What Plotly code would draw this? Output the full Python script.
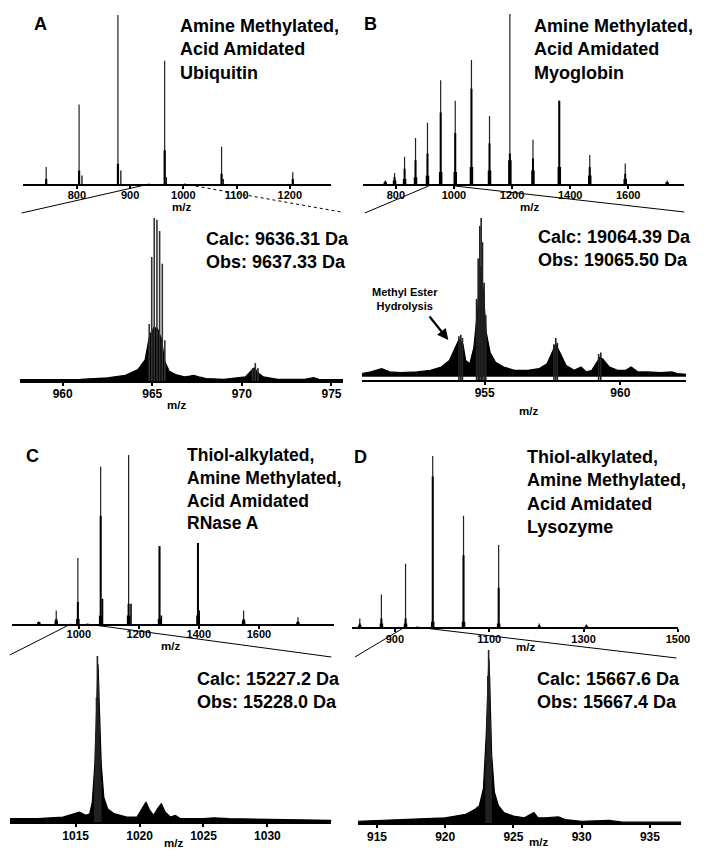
import plotly.graph_objects as go

W, H = 712, 859
FONT = "Liberation Sans, Arial, Helvetica, sans-serif"


def px(x):
    return x / W


def py(y):
    return 1 - y / H


# ---------------- Panel A (ubiquitin) ----------------
a_top_mz = [742.3, 804.1, 877.1, 964.9, 1071.8, 1205.6]
a_top_int = [0.10, 0.47, 1.00, 0.73, 0.22, 0.07]
a_top_core = [0.03, 0.08, 0.12, 0.20, 0.06, 0.03]
a_top_sat_mz = [809.5, 882.6, 968.0, 1075.0]
a_top_sat_int = [0.05, 0.08, 0.04, 0.03]
a_top_ticks = [800, 900, 1000, 1100, 1200]

a_zoom_env_mz = [957.6, 959.0, 961.0, 962.5, 963.5, 964.2, 964.6, 964.85, 965.1, 965.3, 965.5,
                 965.7, 965.95, 966.3, 966.8, 967.1, 967.3, 967.6, 968.0, 969.0, 970.2, 970.5,
                 970.7, 970.9, 971.2, 972.0, 973.5, 974.0, 974.3, 975.65]
a_zoom_env_int = [0.008, 0.008, 0.01, 0.02, 0.035, 0.07, 0.13, 0.28, 0.33, 0.32, 0.26,
                  0.12, 0.06, 0.04, 0.025, 0.03, 0.035, 0.025, 0.015, 0.01, 0.025, 0.06,
                  0.08, 0.05, 0.025, 0.01, 0.01, 0.02, 0.01, 0.008]
a_zoom_iso_mz = [964.83, 964.97, 965.11, 965.26, 965.41, 965.56, 965.70, 970.6, 970.75, 970.9]
a_zoom_iso_int = [0.35, 0.76, 1.00, 0.99, 0.92, 0.72, 0.25, 0.08, 0.11, 0.08]
a_zoom_ticks = [960, 965, 970, 975]

# ---------------- Panel B (myoglobin) ----------------
b_top_mz = [763.6, 795.4, 829.9, 867.6, 908.8, 954.2, 1004.4, 1060.2, 1122.4, 1192.5,
            1272.0, 1362.7, 1467.5, 1589.7, 1734.0]
b_top_int = [0.02, 0.065, 0.16, 0.27, 0.36, 0.61, 0.49, 0.73, 0.40, 1.00, 0.26, 0.49, 0.17, 0.12, 0.02]
b_top_core = [0.015, 0.04, 0.09, 0.14, 0.18, 0.42, 0.30, 0.56, 0.24, 0.18, 0.15, 0.49, 0.10, 0.06, 0.01]
b_top_foot = [0.01, 0.02, 0.03, 0.04, 0.05, 0.07, 0.07, 0.10, 0.08, 0.14, 0.08, 0.10, 0.05, 0.03, 0.01]
b_top_ticks = [800, 1000, 1200, 1400, 1600]

b_zoom_env_mz = [950.47, 950.8, 951.2, 951.5, 951.9, 952.5, 953.0, 953.4, 953.7, 953.9, 954.05,
                 954.2, 954.3, 954.45, 954.6, 954.75, 954.85, 954.95, 955.05, 955.2, 955.4,
                 955.7, 956.1, 956.6, 957.0, 957.3, 957.5, 957.62, 957.8, 958.0, 958.3,
                 958.55, 958.75, 958.95, 959.1, 959.25, 959.35, 959.6, 959.9, 960.2, 960.4,
                 960.65, 961.0, 961.5, 961.9, 962.1, 962.43]
b_zoom_env_int = [0.04, 0.05, 0.07, 0.05, 0.045, 0.05, 0.06, 0.08, 0.12, 0.20, 0.25,
                  0.22, 0.12, 0.10, 0.20, 0.45, 0.70, 0.55, 0.30, 0.17, 0.11,
                  0.08, 0.06, 0.06, 0.07, 0.10, 0.18, 0.22, 0.16, 0.09, 0.06,
                  0.08, 0.05, 0.06, 0.10, 0.14, 0.13, 0.08, 0.06, 0.06, 0.08,
                  0.05, 0.05, 0.045, 0.05, 0.04, 0.035]
b_zoom_floor = 0.022  # lower edge of the noisy baseline band
b_zoom_iso_mz = [954.05, 954.12, 954.18, 954.70, 954.76, 954.82, 954.87, 954.92, 954.98,
                 955.04, 957.55, 957.62, 957.68, 959.20, 959.28]
b_zoom_iso_int = [0.27, 0.28, 0.26, 0.50, 0.75, 0.95, 1.00, 0.85, 0.60, 0.40, 0.22, 0.26, 0.23, 0.16, 0.17]
b_zoom_ticks = [955, 960]

# ---------------- Panel C (RNase A) ----------------
c_top_mz = [867, 925, 997, 1073, 1166, 1269, 1397, 1549, 1730]
c_top_int = [0.015, 0.08, 0.39, 0.93, 1.00, 0.46, 0.48, 0.08, 0.04]
c_top_core = [0.01, 0.03, 0.13, 0.64, 0.12, 0.46, 0.48, 0.03, 0.015]
c_top_foot = [0.01, 0.02, 0.03, 0.05, 0.05, 0.03, 0.05, 0.02, 0.01]
c_top_sat_mz = [1079, 1174, 1275, 1401]
c_top_sat_int = [0.15, 0.12, 0.05, 0.08]
c_top_ticks = [1000, 1200, 1400, 1600]

c_zoom_env_mz = [1009.85, 1012.0, 1014.0, 1014.8, 1015.3, 1015.8, 1016.1, 1016.3, 1016.5, 1016.65,
                 1016.75, 1016.85, 1017.0, 1017.2, 1017.5, 1018.0, 1019.0, 1019.8, 1020.2, 1020.5,
                 1020.8, 1021.1, 1021.4, 1021.7, 1022.0, 1022.4, 1022.8, 1023.2, 1025.0, 1025.8,
                 1027.0, 1035.0]
c_zoom_env_int = [0.02, 0.02, 0.03, 0.05, 0.06, 0.04, 0.05, 0.12, 0.35, 0.70,
                  0.95, 0.70, 0.35, 0.15, 0.08, 0.05, 0.03, 0.03, 0.08, 0.12,
                  0.07, 0.04, 0.08, 0.11, 0.06, 0.03, 0.04, 0.02, 0.02, 0.025,
                  0.02, 0.01]
c_zoom_iso_mz = [1016.50, 1016.57, 1016.63, 1016.70, 1016.77, 1016.83, 1016.90, 1016.97]
c_zoom_iso_int = [0.30, 0.50, 0.75, 1.00, 0.85, 0.60, 0.40, 0.25]
c_zoom_ticks = [1015, 1020, 1025, 1030]

# ---------------- Panel D (lysozyme) ----------------
d_top_mz = [825.6, 871.4, 922.6, 980.2, 1045.5, 1120.0, 1206.0, 1306.0]
d_top_int = [0.05, 0.19, 0.37, 1.00, 0.65, 0.48, 0.02, 0.015]
d_top_core = [0.02, 0.05, 0.05, 0.88, 0.42, 0.23, 0.01, 0.01]
d_top_foot = [0.01, 0.02, 0.02, 0.03, 0.03, 0.02, 0.005, 0.005]
d_top_ticks = [900, 1100, 1300, 1500]

d_zoom_env_mz = [913.6, 917.0, 920.0, 921.5, 922.2, 922.5, 922.8, 923.0, 923.1, 923.2,
                 923.3, 923.4, 923.6, 923.9, 924.3, 925.0, 925.8, 926.3, 926.5, 926.8,
                 927.3, 928.3, 928.8, 930.0, 932.0, 933.0, 937.3]
d_zoom_env_int = [0.01, 0.02, 0.03, 0.05, 0.08, 0.10, 0.20, 0.50, 0.80, 0.95,
                  0.70, 0.40, 0.18, 0.10, 0.06, 0.04, 0.03, 0.05, 0.06, 0.03,
                  0.03, 0.035, 0.02, 0.01, 0.015, 0.005, 0.005]
d_zoom_iso_mz = [923.00, 923.06, 923.12, 923.18, 923.24, 923.30, 923.36]
d_zoom_iso_int = [0.40, 0.60, 0.85, 1.00, 0.85, 0.60, 0.40]
d_zoom_ticks = [915, 920, 925, 930, 935]

# ---------------- layout geometry (pixels) ----------------
# (left, right, baseline_y, top_y, xrange, tickvals, tickfont size, label standoff)
panels = [
    (23, 337, 184, 15, [698, 1278], a_top_ticks, 11, -3),
    (20, 349, 381, 218, [957.6, 975.65], a_zoom_ticks, 12, -2),
    (369, 696, 184, 14, [686, 1793], b_top_ticks, 11, -3),
    (368, 698, 380, 218, [950.47, 962.43], b_zoom_ticks, 12, -2),
    (12, 340, 624, 455, [777, 1851], c_top_ticks, 11, -4),
    (10, 337, 822, 656, [1009.85, 1035], c_zoom_ticks, 12, -1),
    (358, 690, 627, 456, [809, 1501], d_top_ticks, 11, -2),
    (364, 693, 823, 650, [913.6, 937.3], d_zoom_ticks, 12, -1),
]


def sticks(mz, it):
    xs, ys = [], []
    for m, h in zip(mz, it):
        xs += [m, m, None]
        ys += [0, h, None]
    return xs, ys


fig = go.Figure()


def add_sticks(idx, mz, it, width, color="black"):
    xs, ys = sticks(mz, it)
    fig.add_trace(go.Scatter(x=xs, y=ys, mode="lines", line=dict(color=color, width=width),
                             xaxis=f"x{idx}", yaxis=f"y{idx}", hoverinfo="skip", showlegend=False))


def add_env(idx, mz, it, floor=None):
    if floor is not None:
        fig.add_trace(go.Scatter(x=[mz[0], mz[-1]], y=[floor, floor], mode="lines",
                                 line=dict(color="black", width=0.5),
                                 xaxis=f"x{idx}", yaxis=f"y{idx}", hoverinfo="skip",
                                 showlegend=False))
        fill = "tonexty"
    else:
        fill = "tozeroy"
    fig.add_trace(go.Scatter(x=mz, y=it, mode="lines", fill=fill, fillcolor="black",
                             line=dict(color="black", width=1.2),
                             xaxis=f"x{idx}", yaxis=f"y{idx}", hoverinfo="skip", showlegend=False))


# A
add_sticks(1, a_top_mz, a_top_int, 1.2, "#222")
add_sticks(1, a_top_mz, a_top_core, 2.2)
add_sticks(1, a_top_sat_mz, a_top_sat_int, 1.2)
add_env(2, a_zoom_env_mz, a_zoom_env_int)
add_sticks(2, a_zoom_iso_mz, a_zoom_iso_int, 1.6, "#333")
# B
add_sticks(3, b_top_mz, b_top_int, 1.2, "#222")
add_sticks(3, b_top_mz, b_top_core, 2.0)
add_sticks(3, b_top_mz, b_top_foot, 3.5)
add_env(4, b_zoom_env_mz, b_zoom_env_int, floor=b_zoom_floor)
add_sticks(4, b_zoom_iso_mz, b_zoom_iso_int, 1.6, "#222")
# C
add_sticks(5, c_top_mz, c_top_int, 1.2, "#222")
add_sticks(5, c_top_mz, c_top_core, 2.0)
add_sticks(5, c_top_mz, c_top_foot, 3.5)
add_sticks(5, c_top_sat_mz, c_top_sat_int, 1.6)
add_env(6, c_zoom_env_mz, c_zoom_env_int)
add_sticks(6, c_zoom_iso_mz, c_zoom_iso_int, 1.6, "#222")
# D
add_sticks(7, d_top_mz, d_top_int, 1.2, "#222")
add_sticks(7, d_top_mz, d_top_core, 2.0)
add_sticks(7, d_top_mz, d_top_foot, 3.5)
add_env(8, d_zoom_env_mz, d_zoom_env_int)
add_sticks(8, d_zoom_iso_mz, d_zoom_iso_int, 1.6, "#222")

layout = dict(
    width=W, height=H, margin=dict(l=0, r=0, t=0, b=0),
    paper_bgcolor="white", plot_bgcolor="white", showlegend=False,
    font=dict(family=FONT, color="black"),
)
for i, (l, r, yb, yt, xr, tv, fs, so) in enumerate(panels, start=1):
    layout[f"xaxis{i}"] = dict(
        domain=[px(l), px(r)], anchor=f"y{i}", range=xr, tickvals=tv,
        showline=True, linecolor="black", linewidth=2, ticks="outside", ticklen=3,
        tickwidth=1.5, tickcolor="black", showgrid=False, zeroline=False,
        ticklabelstandoff=so,
        tickfont=dict(family=FONT, size=fs, color="black", weight="bold"),
    )
    layout[f"yaxis{i}"] = dict(
        domain=[py(yb), py(yt)], anchor=f"x{i}", range=[0, 1.0], visible=False,
        showgrid=False, zeroline=False,
    )
fig.update_layout(**layout)

ann = []


def text(x, y, s, size, xanchor="left", align="left"):
    ann.append(dict(x=px(x), y=py(y), xref="paper", yref="paper", text=s, showarrow=False,
                    xanchor=xanchor, yanchor="middle", align=align,
                    font=dict(family=FONT, size=size, color="black", weight="bold")))


# panel letters
text(33, 24, "A", 18)
text(368, 24, "B", 18)
text(24, 456, "C", 18)
text(358, 457, "D", 18)
# titles
text(181, 50, "Amine Methylated,<br>Acid Amidated<br>Ubiquitin", 18)
text(541, 50, "Amine Methylated,<br>Acid Amidated<br>Myoglobin", 18)
text(188, 489, "Thiol-alkylated,<br>Amine Methylated,<br>Acid Amidated<br>RNase A", 17.5)
text(534, 492, "Thiol-alkylated,<br>Amine Methylated,<br>Acid Amidated<br>Lysozyme", 18)
# mass labels
text(208, 251, "Calc: 9636.31 Da<br>Obs: 9637.33 Da", 18)
text(545, 248, "Calc: 19064.39 Da<br>Obs: 19065.50 Da", 18)
text(198, 690, "Calc: 15227.2 Da<br>Obs: 15228.0 Da", 18)
text(544, 690, "Calc: 15667.6 Da<br>Obs: 15667.4 Da", 18)
# m/z labels
for (x, y) in [(185, 207), (180, 405), (539, 207), (538, 411),
               (173, 646), (535, 647), (176, 843), (548, 842)]:
    text(x, y, "m/z", 11.5, xanchor="center", align="center")
# methyl ester annotation
text(412, 299, "Methyl Ester<br>Hydrolysis", 11, xanchor="center", align="center")
ann.append(dict(x=px(456), y=py(340), xref="paper", yref="paper", ax=-20, ay=-25,
                axref="pixel", ayref="pixel", text="", showarrow=True, arrowhead=2,
                arrowsize=1, arrowwidth=2.2, arrowcolor="black"))
fig.update_layout(annotations=ann)

# zoom connector lines
lines = [
    ((22, 213), (152, 184), "solid"),
    ((187, 184), (347, 212), "dot"),
    ((371, 213), (436, 186), "solid"),
    ((463, 186), (696, 212), "solid"),
    ((10, 655), (72, 624), "solid"),
    ((88, 624), (337, 657), "solid"),
    ((361, 657), (412, 627), "solid"),
    ((423, 627), (688, 658), "solid"),
]
shapes = []
for (x0, y0), (x1, y1), dash in lines:
    shapes.append(dict(type="line", xref="paper", yref="paper", x0=px(x0), y0=py(y0),
                       x1=px(x1), y1=py(y1), line=dict(color="black", width=1, dash=dash)))
fig.update_layout(shapes=shapes)

fig.write_html("out.html", config={"displayModeBar": False, "displaylogo": False},
               post_script="document.body.style.margin='0';document.body.style.overflow='hidden';")
